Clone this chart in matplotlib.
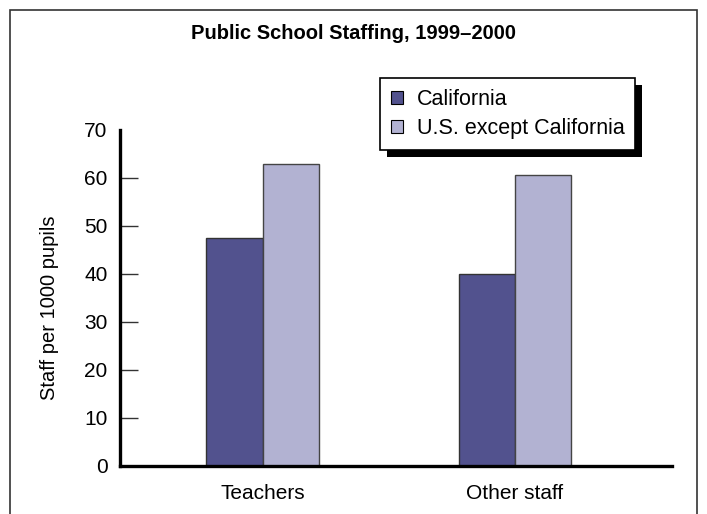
import numpy as np
import matplotlib
matplotlib.use('Agg')
import matplotlib.pyplot as plt
from matplotlib.patches import Patch, Rectangle

plt.rcParams['font.family'] = ['Liberation Sans', 'DejaVu Sans']

categories = ['Teachers', 'Other staff']
series_names = ['California', 'U.S. except California']
california = [47.4, 39.9]
us_except_ca = [63.0, 60.7]
yticks = [0, 10, 20, 30, 40, 50, 60, 70]

dark = '#52528e'
light = '#b2b2d2'

fig = plt.figure(figsize=(7.07, 5.14), dpi=100)
ax = fig.add_axes([0.1697, 0.0934, 0.7808, 0.6537])

x = np.arange(len(categories))
w = 0.224
ax.bar(x - w / 2, california, w, color=dark, edgecolor='#333333', linewidth=1.0, zorder=2)
ax.bar(x + w / 2, us_except_ca, w, color=light, edgecolor='#444444', linewidth=1.0, zorder=2)

ax.set_xlim(-0.567, 1.623)
ax.set_ylim(0, 70)

for s in ['top', 'right']:
    ax.spines[s].set_visible(False)
for s in ['left', 'bottom']:
    ax.spines[s].set_linewidth(2.4)
    ax.spines[s].set_color('black')
    ax.spines[s].set_zorder(3)

ax.set_yticks(yticks)
ax.set_yticklabels([str(v) for v in yticks], fontsize=15)
ax.tick_params(axis='y', direction='in', length=13, width=1.0, color='#333333', pad=9)
# no tick marks at 0 and 70, only labels
ticks = ax.yaxis.get_major_ticks()
ticks[0].tick1line.set_visible(False)
ticks[-1].tick1line.set_visible(False)

ax.set_xticks(x)
ax.set_xticklabels(categories, fontsize=15)
ax.tick_params(axis='x', length=0, pad=13)

ax.set_ylabel('Staff per 1000 pupils', fontsize=14.5, labelpad=18, y=0.47)

fig.text(0.5, 0.934, 'Public School Staffing, 1999\u20132000', ha='center', va='center',
         fontsize=14.5, fontweight='bold')

handles = [Patch(facecolor=dark, edgecolor='black', linewidth=0.8),
           Patch(facecolor=light, edgecolor='black', linewidth=0.8)]
leg = ax.legend(handles, series_names, loc='upper left',
                bbox_to_anchor=(380 / 707, 1 - 78 / 514), bbox_transform=fig.transFigure,
                fontsize=15.5, frameon=True, fancybox=False, edgecolor='black',
                facecolor='white', framealpha=1,
                handlelength=0.55, handleheight=0.55, handletextpad=0.65,
                labelspacing=0.4, borderpad=0.5, borderaxespad=0)
leg.get_frame().set_linewidth(1.2)
leg.set_zorder(6)

# frame around whole chart
fig.patches.append(Rectangle((10 / 707, -0.05), 687 / 707, 1.05 - 10 / 514, fill=False,
                             edgecolor='#333333', linewidth=1.2, transform=fig.transFigure))

fig.canvas.draw()
bb = leg.get_window_extent()
shadow = Rectangle((bb.x0 + 7, bb.y0 - 7), bb.width, bb.height, facecolor='black',
                   edgecolor='none', transform=None, clip_on=False, zorder=5)
ax.add_artist(shadow)

fig.savefig('out.png', dpi=100)
